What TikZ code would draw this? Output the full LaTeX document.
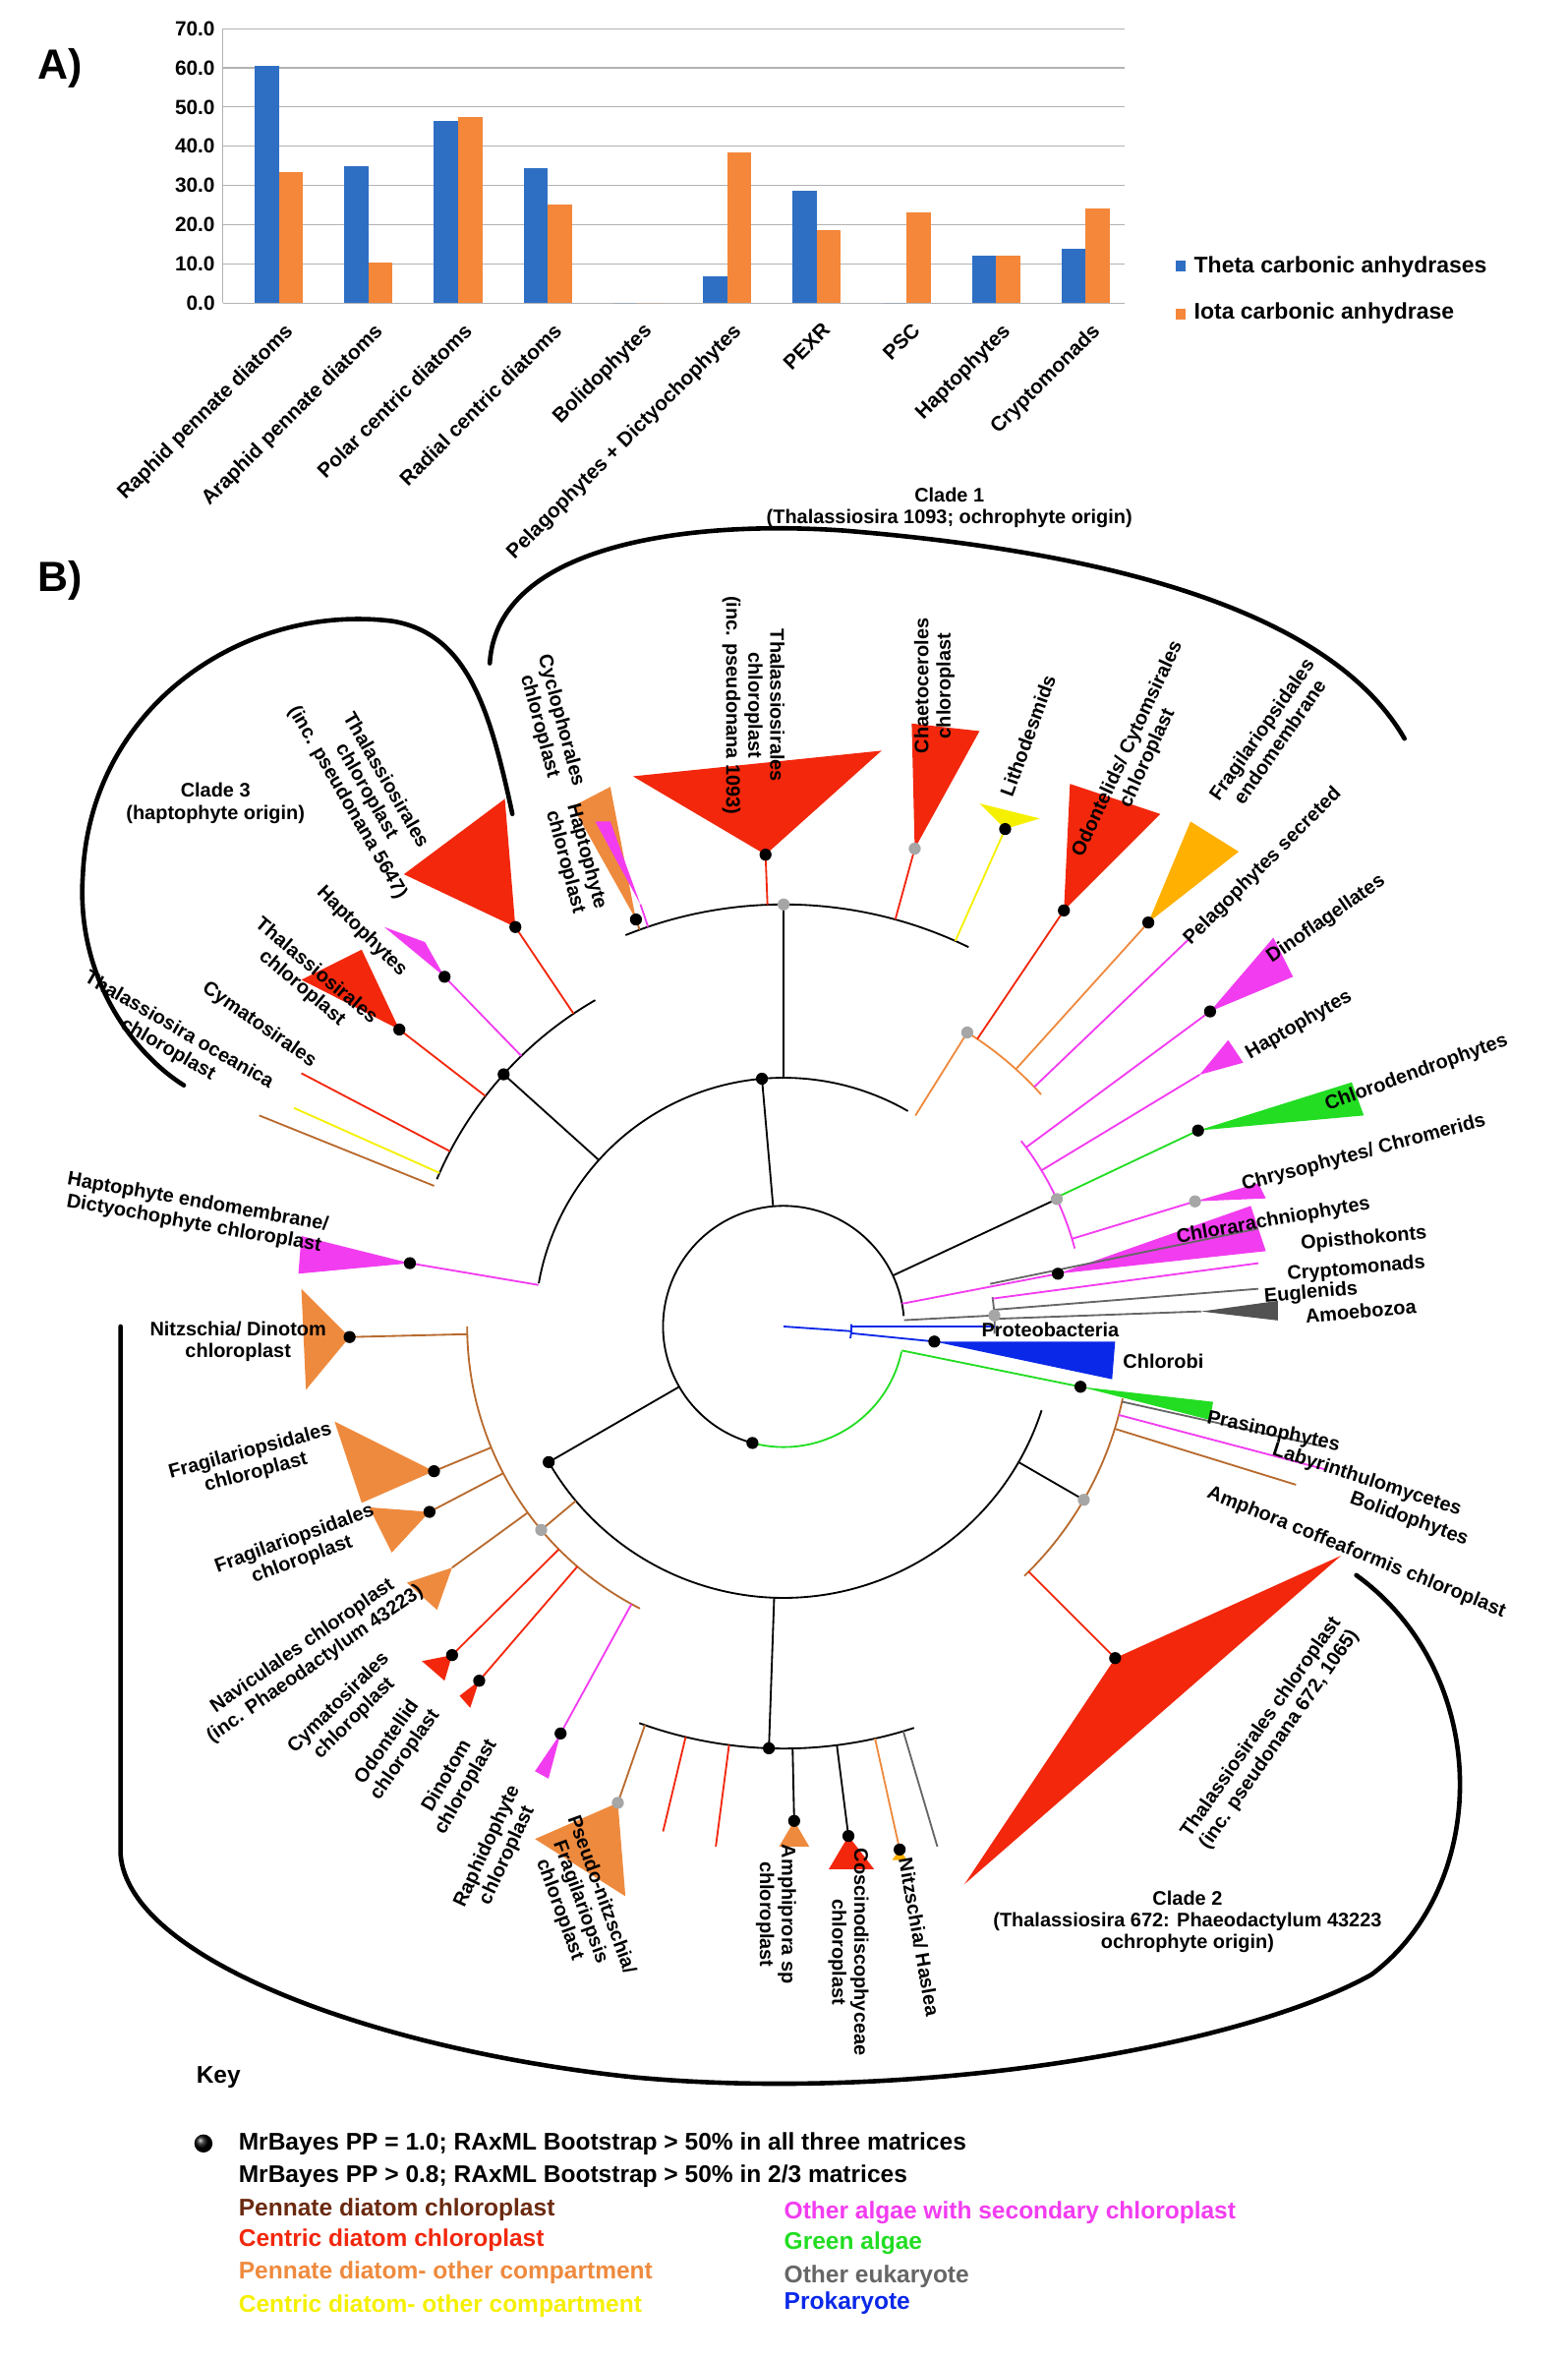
\documentclass[tikz,border=0pt]{standalone}
\usepackage{fontspec}
\setmainfont{Liberation Sans}
\usetikzlibrary{calc}
\definecolor{bblue}{HTML}{2E6FC4}
\definecolor{borange}{HTML}{F4873A}
\definecolor{cbrown}{HTML}{B86A2E}
\definecolor{tor}{HTML}{EE8A3E}
\definecolor{tred}{HTML}{F2270C}
\definecolor{tmag}{HTML}{F23CF0}
\definecolor{tyel}{HTML}{F5F000}
\definecolor{tgreen}{HTML}{22DD22}
\definecolor{tblue}{HTML}{0A28E8}
\definecolor{tgold}{HTML}{FFB000}
\definecolor{kbrown}{HTML}{6B2A10}
\definecolor{kgray}{HTML}{666666}
\newcommand\lf[3]{\draw[#2,line width=0.6pt] ($(C)!#3!(#1)$) -- (#1);}
\newcommand\tri[4]{\fill[#4] (#1) -- (#2) -- (#3) -- cycle;}
\newcommand\arcR[4]{\draw[#1,line width=0.6pt] ($(C)+(#3:#2)$) arc[start angle=#3,end angle=#4,radius=#2];}
\newcommand\rad[4]{\draw[#1,line width=0.6pt] ($(C)+(#2:#3)$) -- ($(C)+(#2:#4)$);}
\begin{document}
\begin{tikzpicture}[x=0.5pt,y=-0.5pt,
  lab/.style={font=\fontsize{6.5}{7.3}\selectfont\bfseries,align=center,inner sep=0pt},
  ax/.style={font=\fontsize{6.8}{7.5}\selectfont\bfseries,inner sep=1pt},
  kt/.style={font=\fontsize{8}{9}\selectfont\bfseries,inner sep=0pt,anchor=west},
  bd/.style={circle,fill=black,inner sep=0pt,minimum size=4pt},
  gd/.style={circle,fill=gray!70,inner sep=0pt,minimum size=4pt},
  br/.style={line width=1.5pt,line cap=round}]
\useasboundingbox (0,0) rectangle (1040,1565);
% ---------- A ----------
\node[font=\fontsize{14}{14}\selectfont\bfseries] (A) at (40,45) {A)};
\foreach \v [count=\i from 0] in {0.0,10.0,20.0,30.0,40.0,50.0,60.0,70.0}{
  \draw[gray!60,line width=0.4pt] (148,201-\i*26) -- (746,201-\i*26);
  \node[ax,anchor=east] at (145,201-\i*26) {\v};}
\draw[gray!60] (148,19) -- (148,201);
\foreach \t/\o [count=\i from 0] in {60.6/33.3,35/10.2,46.5/47.4,34.5/25,0/0,6.8/38.3,28.6/18.5,0/23,12/12,13.8/24.2}{
  \pgfmathsetmacro\c{185+59.5*\i}
  \fill[bblue] (\c-16,201) rectangle (\c,201-\t*2.6);
  \fill[borange] (\c,201) rectangle (\c+16,201-\o*2.6);}
\foreach \n [count=\i from 0] in {Raphid pennate diatoms,Araphid pennate diatoms,Polar centric diatoms,Radial centric diatoms,Bolidophytes,Pelagophytes + Dictyochophytes,PEXR,PSC,Haptophytes,Cryptomonads}{
  \node[ax,anchor=north east,rotate=45] at (188+59.5*\i,210) {\n};}
\fill[bblue] (780,173) rectangle (787,180);
\node[ax,anchor=west,font=\fontsize{7.5}{8}\selectfont\bfseries] at (790,177) {Theta carbonic anhydrases};
\fill[borange] (780,205) rectangle (787,212);
\node[ax,anchor=west,font=\fontsize{7.5}{8}\selectfont\bfseries] at (790,208) {Iota carbonic anhydrase};
% ---------- B ----------
\node[font=\fontsize{14}{14}\selectfont\bfseries] (B) at (40,385) {B)};
\coordinate (C) at (520,880);
% skeleton
\arcR{black}{80}{105}{355}
\arcR{tgreen}{80}{105}{12}
\arcR{tblue}{45}{-2}{10}
\rad{tblue}{4}{0}{45}
% top group
\rad{black}{265}{80}{165}
\arcR{black}{165}{190}{300}
\rad{black}{222}{165}{250}
\arcR{black}{250}{203}{240}
\rad{black}{270}{165}{280}
\arcR{black}{280}{248}{296}
\rad{tor}{302}{165}{230}
\arcR{tor}{230}{302}{318}
% right group
\rad{black}{335}{80}{200}
\arcR{tmag}{200}{322}{345}
\arcR{kgray}{140}{352}{362}
\rad{kgray}{357}{80}{140}
% lower group
\rad{black}{150}{80}{180}
\arcR{black}{180}{18}{150}
\rad{black}{30}{180}{230}
\arcR{cbrown}{230}{12}{46}
\rad{black}{92}{180}{280}
\arcR{black}{280}{72}{110}
\rad{cbrown}{140}{180}{210}
\arcR{cbrown}{210}{117}{180}
% triangles
\coordinate (t1) at (342,615); \tri{t1}{268,580}{335,530}{tred}
\coordinate (t2) at (295,648); \tri{t2}{255,615}{282,625}{tmag}
\coordinate (t3) at (265,683); \tri{t3}{200,650}{240,630}{tred}
\coordinate (t4) at (422,610); \tri{t4}{380,535}{405,522}{tor}
\coordinate (t5) at (425,600); \tri{t5}{395,545}{405,545}{tmag}
\coordinate (t6) at (508,567); \tri{t6}{420,515}{585,498}{tred}
\coordinate (t7) at (607,563); \tri{t7}{605,480}{650,485}{tred}
\coordinate (t8) at (667,550); \tri{t8}{650,533}{690,543}{tyel}
\coordinate (t9) at (706,604); \tri{t9}{710,520}{770,540}{tred}
\coordinate (t10) at (762,612); \tri{t10}{790,545}{822,565}{tgold}
\coordinate (t11) at (803,671); \tri{t11}{845,622}{858,648}{tmag}
\coordinate (t12) at (796,713); \tri{t12}{815,690}{825,705}{tmag}
\coordinate (t13) at (795,750); \tri{t13}{897,718}{905,740}{tgreen}
\coordinate (t14) at (793,797); \tri{t14}{835,785}{840,795}{tmag}
\coordinate (t15) at (702,845); \tri{t15}{830,800}{840,830}{tmag}
\coordinate (t16) at (797,870); \tri{t16}{848,863}{848,876}{kgray!80!black}
\coordinate (t17) at (620,890); \tri{t17}{740,890}{738,915}{tblue}
\coordinate (t18) at (717,920); \tri{t18}{805,930}{803,942}{tgreen}
\coordinate (t19) at (740,1100); \tri{t19}{890,1032}{640,1250}{tred}
\coordinate (t20) at (272,838); \tri{t20}{200,820}{198,845}{tmag}
\coordinate (t21) at (232,887); \tri{t21}{200,855}{203,922}{tor}
\coordinate (t22) at (288,976); \tri{t22}{222,943}{240,997}{tor}
\coordinate (t23) at (285,1003); \tri{t23}{245,1000}{260,1030}{tor}
\coordinate (t24) at (300,1040); \tri{t24}{270,1050}{290,1068}{tor}
\coordinate (t25) at (300,1098); \tri{t25}{280,1102}{295,1115}{tred}
\coordinate (t26) at (318,1115); \tri{t26}{305,1125}{312,1133}{tred}
\coordinate (t27) at (372,1150); \tri{t27}{355,1175}{364,1180}{tmag}
\coordinate (t28) at (410,1196); \tri{t28}{355,1220}{415,1258}{tor}
\coordinate (t29) at (527,1208); \tri{t29}{517,1225}{537,1225}{tor}
\coordinate (t30) at (563,1218); \tri{t30}{550,1240}{580,1240}{tred}
\coordinate (t31) at (597,1227); \tri{t31}{592,1234}{602,1234}{tgold}
% leaf branches (radius in pt = display/2)
\lf{t1}{tred}{125pt} \lf{t2}{tmag}{125pt} \lf{t3}{tred}{125pt}
\lf{t4}{cbrown}{140pt} \lf{t5}{tmag}{140pt} \lf{t6}{tred}{140pt}
\lf{t7}{tred}{140pt} \lf{t8}{tyel}{140pt} \lf{t9}{tred}{115pt}
\lf{t10}{tor}{115pt} \lf{t11}{tmag}{100pt} \lf{t12}{tmag}{100pt}
\lf{t13}{tgreen}{100pt} \lf{t14}{tmag}{100pt} \lf{t15}{tmag}{40pt}
\lf{t16}{kgray}{70pt} \lf{t17}{tblue}{22.5pt} \lf{t18}{tgreen}{40pt}
\lf{t19}{tred}{115pt} \lf{t20}{tmag}{82.5pt} \lf{t21}{cbrown}{105pt}
\lf{t22}{cbrown}{105pt} \lf{t23}{cbrown}{105pt} \lf{t24}{cbrown}{105pt}
\lf{t25}{tred}{105pt} \lf{t26}{tred}{105pt} \lf{t27}{tmag}{105pt}
\lf{t28}{cbrown}{140pt} \lf{t29}{black}{140pt} \lf{t30}{black}{140pt}
\lf{t31}{tor}{140pt}
\coordinate (pr) at (660,880); \draw[tblue,line width=0.6pt] ($(C)!22.5pt!(pr)$) -- (pr);
\coordinate (o1) at (835,815); \draw[kgray,line width=0.6pt] ($(C)!70pt!(o1)$) -- (o1);
\coordinate (o2) at (835,838); \draw[tmag,line width=0.6pt] ($(C)!70pt!(o2)$) -- (o2);
\coordinate (o3) at (835,855); \draw[kgray,line width=0.6pt] ($(C)!70pt!(o3)$) -- (o3);
\coordinate (la) at (880,960); \draw[kgray,line width=0.6pt] ($(C)!115pt!(la)$) -- (la);
\coordinate (bo) at (880,975); \draw[tmag,line width=0.6pt] ($(C)!115pt!(bo)$) -- (bo);
\coordinate (am) at (860,985); \draw[cbrown,line width=0.6pt] ($(C)!115pt!(am)$) -- (am);
\coordinate (ps) at (790,622); \draw[tmag,line width=0.6pt] ($(C)!115pt!(ps)$) -- (ps);
\coordinate (x1) at (200,712); \draw[tred,line width=0.6pt] ($(C)!125pt!(x1)$) -- (x1);
\coordinate (x2) at (195,735); \draw[tyel,line width=0.6pt] ($(C)!125pt!(x2)$) -- (x2);
\coordinate (x3) at (172,740); \draw[cbrown,line width=0.6pt] ($(C)!125pt!(x3)$) -- (x3);
\coordinate (x4) at (440,1215); \draw[tred,line width=0.6pt] ($(C)!140pt!(x4)$) -- (x4);
\coordinate (x5) at (475,1225); \draw[tred,line width=0.6pt] ($(C)!140pt!(x5)$) -- (x5);
\coordinate (x6) at (622,1225); \draw[kgray,line width=0.6pt] ($(C)!140pt!(x6)$) -- (x6);
% dots
\foreach \p in {t1,t2,t3,t4,t6,t8,t9,t10,t11,t13,t15,t17,t18,t19,t20,t21,t22,t23,t25,t26,t27,t29,t30,t31}{\node[bd] at (\p) {};}
\node[gd] at (t7) {}; \node[gd] at (t14){}; \node[gd] at (t28) {};
\node[bd] at ($(C)+(105:80)$) {};
\node[bd] at ($(C)+(265:165)$) {};
\node[bd] at ($(C)+(222:250)$) {};
\node[gd] at ($(C)+(270:280)$) {};
\node[gd] at ($(C)+(302:230)$) {};
\node[bd] at ($(C)+(150:180)$) {};
\node[bd] at ($(C)+(92:280)$) {};
\node[gd] at ($(C)+(30:230)$) {};
\node[gd] at ($(C)+(140:210)$) {};
\node[gd] at ($(C)+(335:200)$) {};
\node[gd] at ($(C)+(357:140)$) {};
% labels
\node[lab] (c1) at (630,337) {Clade 1\\(Thalassiosira 1093; ochrophyte origin)};
\node[lab] (c3) at (143,533) {Clade 3\\(haptophyte origin)};
\node[lab] (c2) at (788,1275) {Clade 2\\(Thalassiosira 672: Phaeodactylum 43223\\ochrophyte origin)};
\node[lab,rotate=-60] at (243,525) {Thalassiosirales\\chloroplast\\(inc. pseudonana 5647)};
\node[lab,rotate=-45] at (240,618) {Haptophytes};
\node[lab,rotate=-40] at (205,650) {Thalassiosirales\\chloroplast};
\node[lab,rotate=-35] at (172,680) {Cymatosirales};
\node[lab,rotate=-30] at (115,690) {Thalassiosira oceanica\\chloroplast};
\node[lab,rotate=-75] at (365,480) {Cyclophorales\\chloroplast};
\node[lab,rotate=-75] at (382,570) {Haptophyte\\chloroplast};
\node[lab,rotate=-90] at (500,468) {Thalassiosirales\\chloroplast\\(inc. pseudonana 1093)};
\node[lab,rotate=90] at (620,455) {Chaetoceroles\\chloroplast};
\node[lab,rotate=70] at (682,488) {Lithodesmids};
\node[lab,rotate=65] at (755,500) {Odontelids/ Cytomsirales\\chloroplast};
\node[lab,rotate=55] at (843,488) {Fragilariopsidales\\endomembrane};
\node[lab,rotate=45] at (838,575) {Pelagophytes secreted};
\node[lab,rotate=35] at (880,610) {Dinoflagellates};
\node[lab,rotate=30] at (862,680) {Haptophytes};
\node[lab,rotate=20] at (940,712) {Chlorodendrophytes};
\node[lab,rotate=15] at (905,765) {Chrysophytes/ Chromerids};
\node[lab,rotate=10] at (845,810) {Chlorarachniophytes};
\node[lab,rotate=5] at (905,822) {Opisthokonts};
\node[lab,rotate=5] at (900,842) {Cryptomonads};
\node[lab,rotate=5] at (870,858) {Euglenids};
\node[lab,rotate=5] at (903,870) {Amoebozoa};
\node[lab] at (697,882) {Proteobacteria};
\node[lab] at (772,903) {Chlorobi};
\node[lab,rotate=-12] at (845,950) {Prasinophytes};
\node[lab,rotate=-18] at (907,982) {Labyrinthulomycetes};
\node[lab,rotate=-20] at (935,1008) {Bolidophytes};
\node[lab,rotate=-22] at (900,1030) {Amphora coffeaformis chloroplast};
\node[lab,rotate=55] at (843,1150) {Thalassiosirales chloroplast\\(inc. pseudonana 672, 1065)};
\node[lab,rotate=-10] at (130,805) {Haptophyte endomembrane/\\Dictyochophyte chloroplast};
\node[lab] at (158,890) {Nitzschia/ Dinotom\\chloroplast};
\node[lab,rotate=15] at (168,970) {Fragilariopsidales\\chloroplast};
\node[lab,rotate=20] at (198,1028) {Fragilariopsidales\\chloroplast};
\node[lab,rotate=35] at (205,1098) {Naviculales chloroplast\\(inc. Phaeodactylum 43223)};
\node[lab,rotate=45] at (230,1135) {Cymatosirales\\chloroplast};
\node[lab,rotate=55] at (263,1160) {Odontellid\\chloroplast};
\node[lab,rotate=60] at (303,1182) {Dinotom\\chloroplast};
\node[lab,rotate=65] at (330,1228) {Raphidophyte\\chloroplast};
\node[lab,rotate=-70] at (385,1262) {Pseudo-nitzschia/\\Fragilariopsis\\chloroplast};
\node[lab,rotate=-90] at (515,1270) {Amphiprora sp\\chloroplast};
\node[lab,rotate=-90] at (563,1295) {Coscinodiscophyceae\\chloroplast};
\node[lab,rotate=-80] at (610,1285) {Nitzschia/ Haslea};
% clade brackets
\draw[br] (325,440) .. controls (330,360) and (460,345) .. (560,352) .. controls (720,365) and (880,400) .. (932,490);
\draw[br] (340,540) .. controls (325,470) and (310,420) .. (260,412) .. controls (160,400) and (60,470) .. (55,580) .. controls (50,650) and (90,700) .. (122,720);
\draw[br] (80,880) -- (80,1230) .. controls (85,1300) and (250,1360) .. (420,1378) .. controls (600,1395) and (820,1360) .. (910,1310) .. controls (990,1250) and (990,1110) .. (900,1045);
% key
\node[lab,font=\fontsize{8}{9}\selectfont\bfseries] (key) at (145,1378) {Key};
\shade[ball color=black] (135,1422) circle (6);
\node[kt] at (158,1422) {MrBayes PP = 1.0; RAxML Bootstrap > 50\% in all three matrices};
\node[kt] at (158,1444) {MrBayes PP > 0.8; RAxML Bootstrap > 50\% in 2/3 matrices};
\node[kt,text=kbrown] at (158,1466) {Pennate diatom chloroplast};
\node[kt,text=tred] at (158,1486) {Centric diatom chloroplast};
\node[kt,text=tor] at (158,1508) {Pennate diatom- other compartment};
\node[kt,text=tyel] at (158,1530) {Centric diatom- other compartment};
\node[kt,text=tmag] at (520,1468) {Other algae with secondary chloroplast};
\node[kt,text=tgreen] at (520,1488) {Green algae};
\node[kt,text=kgray] at (520,1510) {Other eukaryote};
\node[kt,text=tblue] at (520,1528) {Prokaryote};
\end{tikzpicture}
\end{document}
